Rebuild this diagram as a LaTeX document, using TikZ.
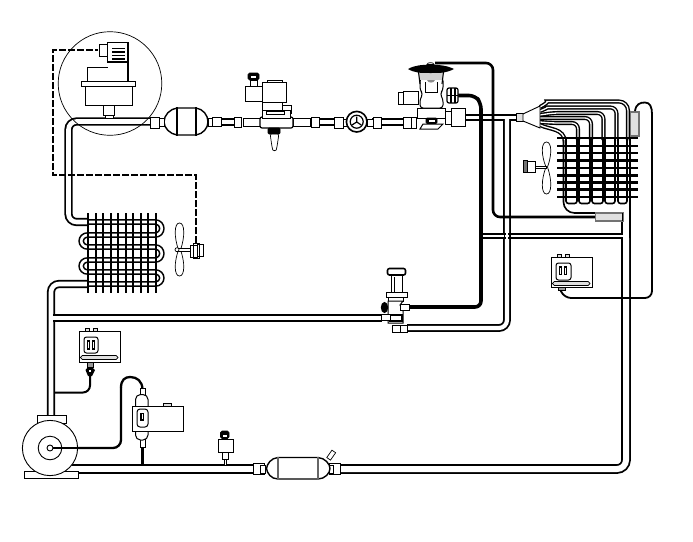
\documentclass[tikz,border=0pt]{standalone}
\begin{document}
\begin{tikzpicture}[x=1pt,y=-1pt,
 pipe/.style={line width=1.8pt,double=white,double distance=4.6pt},
 widepipe/.style={line width=1.8pt,double=white,double distance=6pt},
 rowpipe/.style={line width=1.6pt,double=white,double distance=2.6pt},
 tube/.style={line width=1.4pt,double=white,double distance=1.3pt},
 fin/.style={line width=2.1pt,black},
 wire/.style={line width=1.4pt,black},
 heavy/.style={line width=2.6pt,black},
 heavier/.style={line width=3.6pt,black},
 signal/.style={line width=1.9pt,black,dash pattern=on 7pt off 2pt},
 part/.style={draw=black,fill=white,line width=1pt},
 thin part/.style={draw=black,fill=white,line width=.7pt},
 solid part/.style={draw=black,fill=black,line width=.6pt},
 bulb/.style={draw=black!55,fill=black!12,line width=1.1pt},
 band/.style={line width=2pt,black!60},
]
\useasboundingbox (0,0) rectangle (693,541);
\fill[white] (0,0) rectangle (693,541);

% ---- named connection points
\coordinate (compTop) at (51,418);
\coordinate (condOut) at (88,284);
\coordinate (condIn) at (88,222);
\coordinate (dryerIn) at (152,121.5);
\coordinate (dryerOut) at (222,122);
\coordinate (solIn) at (234,122);
\coordinate (solOut) at (311,122);
\coordinate (glassIn) at (334,122);
\coordinate (glassOut) at (372,122);
\coordinate (txvIn) at (404,122);
\coordinate (txvOut) at (465,117.5);
\coordinate (dist) at (517,117.5);
\coordinate (hvTop) at (507,119);
\coordinate (hvValve) at (407,328);
\coordinate (liqValve) at (382,318);
\coordinate (liqTee) at (52.8,318);
\coordinate (recvOut) at (338,469);
\coordinate (recvIn) at (255,469);
\coordinate (compOut) at (72,469);
\coordinate (teeL) at (483,236);
\coordinate (teeR) at (623.4,236);

% ---- refrigerant pipes
\draw[pipe,rounded corners=8pt] (compTop) -- (51,284) -- (condOut);
\draw[pipe,rounded corners=8pt] (condIn) -- (68.5,222) -- (68.5,121.5) -- (dryerIn);
\draw[pipe] (liqTee) -- (liqValve);
\draw[rowpipe] (88,284) -- (155,284) .. controls (164,284) and (164,272) .. (155,272) -- (88,272)
  .. controls (79,272) and (79,260) .. (88,260) -- (155,260) .. controls (164,260) and (164,247) .. (155,247) -- (88,247)
  .. controls (79,247) and (79,235) .. (88,235) -- (155,235) .. controls (164,235) and (164,222) .. (155,222) -- (88,222);
\foreach \x in {88.3,95.7,103.2,110.7,118.2,125.7,133.2,140.7,148.2,155.7}
  \draw[fin] (\x,213) -- (\x,293);

\draw[pipe] (dryerOut) -- (solIn);
\draw[pipe] (solOut) -- (glassIn);
\draw[pipe] (glassOut) -- (txvIn);
\draw[pipe,double distance=3.4pt] (txvOut) -- (dist);
\draw[pipe,double distance=4.2pt,rounded corners=8pt] (hvTop) -- (507,328) -- (hvValve);
\draw[pipe,double distance=2.2pt] (teeL) -- (teeR);
\draw[line width=1.6pt] (504.3,233) -- (504.3,239) (509.7,233) -- (509.7,239);
\draw[line width=2.6pt,white] (507,233.4) -- (507,238.6);

% ---- heavy lines
\draw[heavy,rounded corners=7pt] (435,63) -- (493,63) -- (493,217) -- (597,217);
\draw[heavier,rounded corners=6pt] (458,95.5) -- (475,95.5) -- (481,103) -- (481,307) -- (408,307);

% ---- evaporator tubes
\draw[tube,rounded corners=9pt] (540,107) .. controls (546,104) and (548,101.5) .. (556,101.5) -- (628,101.5) -- (628,140);
\draw[tube,rounded corners=6pt] (540,111) .. controls (545,109) and (548,107.5) .. (553,107.5) -- (616.5,107.5) -- (616.5,140);
\draw[tube,rounded corners=6pt] (540,115) -- (553,113) -- (603.5,113) -- (603.5,140);
\draw[tube,rounded corners=6pt] (540,118) -- (591,118) -- (591,140);
\draw[tube,rounded corners=6pt] (540,122) -- (553,123) -- (578,123) -- (578,140);
\draw[tube] (540,125) .. controls (550,130) and (564,128) .. (565,142);
% U bends
\foreach \a/\b in {566/577,579/590,592/603,605/615,618/627}
  \draw[line width=1.6pt,rounded corners=2.5pt] (\a,138) -- (\a,203.5) -- (\b,203.5) -- (\b,138);
\draw[line width=1.6pt,rounded corners=11pt] (563.5,140) -- (563.5,213) -- (597,213);
% fins
\foreach \y in {138,146,153,160.5,168,175.5,182.5,189.5,197}
  \draw[fin] (557,\y) -- (638,\y);

% ---- long suction pipe and outer wall
\draw[line width=1.8pt] (622,221) -- (622,233.5);
\draw[line width=1.8pt] (630,128) -- (630,240);
\draw[widepipe,rounded corners=9pt] (recvOut) -- (626,469) -- (626,238);
\draw[pipe,double distance=2.2pt] (560,236) -- (teeR);
\draw[widepipe] (compOut) -- (recvIn);

% ---- bulbs
\draw[bulb] (595.5,213) rectangle (623,221);
\draw[line width=1.3pt] (622.5,213) -- (622.5,221);
\draw[bulb] (630.5,112) rectangle (639,136);

% ---- capillary of the right switch
\draw[wire,line width=1.8pt,rounded corners=7pt] (560,289) -- (564,298) -- (652,298) -- (652,114);
\draw[wire,line width=1.8pt] (635,111) .. controls (636,104) and (640,102.5) .. (645,102.5) .. controls (650,102.5) and (652,107) .. (652,114);

% ---- distributor
\draw[thin part,fill=black!12] (516,113) rectangle (523,121.5);
\draw[thin part,line width=.9pt] (523,114) -- (540,106) -- (540,128) -- (523,121) -- cycle;

% ---- dryer
\draw[part,line width=1.4pt] (177,108) -- (196,108) .. controls (203,109) and (208,115) .. (208,122) .. controls (208,128) and (203,134) .. (196,135) -- (177,135) .. controls (170,134) and (164,128) .. (164,122) .. controls (164,115) and (170,109) .. (177,108) -- cycle;
\draw[band,line width=1.8pt,black] (177,107) -- (177,136) (196,107) -- (196,136);
\draw[part] (150.5,117) rectangle (159.5,128);
\draw[part] (159.5,118.5) rectangle (164,126.5);
\draw[part] (208,118.5) rectangle (212,126);
\draw[part] (212,117.5) rectangle (221,126.5);

% ---- solenoid valve
\draw[part] (234,117) rectangle (241.5,127);
\draw[part] (243,118) rectangle (261,126.5);
\draw[part] (293,118) rectangle (310,126);
\draw[part] (311,117) rectangle (319,127);
\draw[part,line width=1.2pt,rounded corners=2pt] (260,117) rectangle (293,128);
\draw[part] (262,110) rectangle (290,118);
\draw[part] (262,102) rectangle (282,110);
\draw[thin part] (266,111) rectangle (284,114);
\draw[part,fill=none] (282,105) -- (291,105) -- (291,114);
\draw[part] (262.5,82) rectangle (286,102);
\draw[part] (267,80) rectangle (282,82);
\draw[part] (245,86) rectangle (262,101);
\draw[part] (250,80) rectangle (257,86);
\draw[solid part,rounded corners=1.5pt] (248,73) rectangle (259,80);
\fill[white] (251,75.5) rectangle (256,78);
\draw[thin part,rounded corners=3pt] (270,133) -- (279,133) -- (277,147) .. controls (276,151) and (273,151) .. (272,147) -- cycle;
\draw[solid part,rounded corners=1pt] (268,128) rectangle (280,134);

% ---- sight glass
\draw[part] (334,117) rectangle (343,128);
\draw[part] (343,119) rectangle (347,126);
\draw[part] (367,119) rectangle (373,126);
\draw[part] (373,117) rectangle (381,128);
\draw[part,line width=1.6pt] (356.7,121.7) circle (10.3);
\draw[part,line width=1.2pt] (356.7,121.7) circle (6.5);
\draw[line width=1.2pt] (356.7,116.5) -- (356.7,122) -- (352,125) (356.7,122) -- (361.3,125);

% ---- expansion valve
\draw[part] (403,117) rectangle (416,128);
\draw[line width=1pt] (411,117) -- (411,128);
\draw[part] (398,92) rectangle (403,104);
\draw[part] (403,91.5) rectangle (418,104);
\draw[part] (451,108) rectangle (465,126);
\draw[part] (445,111) rectangle (451,124);
\draw[part] (423,124) -- (443,124) -- (438,129) -- (420,129) -- cycle;
\draw[part] (417,108) rectangle (445,118);
\draw[part,rounded corners=3pt] (420,78) -- (443,78) -- (443,90) -- (440,94) -- (443,99) -- (443,108) -- (420,108) -- (420,99) -- (423,94) -- (420,90) -- cycle;
\draw[thin part] (425,82) -- (425,92) -- (437,92) -- (437,82);
\draw[solid part,rounded corners=1pt] (426,118) rectangle (437,123.5);
\fill[white] (428.5,119.7) rectangle (434.5,121.7);
\fill[black!18] (419,72) rectangle (443,80);
\fill[black!45] (427,80) -- (435,80) .. controls (434,83.5) and (428,83.5) .. (427,80);
\draw[line width=1.1pt] (418.5,72) -- (420,84) (443.5,72) -- (442,84);
\fill[black] (408,69) .. controls (415,65) and (422,65) .. (430.5,64.5) .. controls (438,65) and (446,65) .. (454,69) .. controls (446,73) and (442,73) .. (430.5,73) .. controls (420,73) and (415,73) .. (408,69) -- cycle;
\draw[thin part] (427,64.5) .. controls (427,62) and (434,62) .. (434,64.5) -- cycle;
\draw[solid part,fill=white,line width=1.2pt,rounded corners=2pt] (447,88) rectangle (458,103);
\draw[black,line width=1.8pt] (451,88) -- (451,103) (455,88) -- (455,103);
\draw[line width=1.6pt] (447,95.5) -- (458,95.5);

% ---- left hand valve
\draw[part,line width=1.6pt,rounded corners=2pt] (387.5,268.5) rectangle (405.5,275);
\draw[part] (391,275) rectangle (402,292);
\draw[line width=.8pt] (394,277) -- (394,292);
\draw[part] (386,292) rectangle (407,297);
\draw[part] (388.5,297) rectangle (403.5,301);
\draw[part] (392,325) rectangle (407,332);
\draw[line width=1pt] (400.5,325) -- (400.5,332);
\draw[part] (388,301) -- (403,301) -- (400,305) -- (403,311) -- (403,323) -- (388,323) -- cycle;
\draw[line width=1.6pt] (390,315) rectangle (402,321);
\draw[part] (400,304) rectangle (409,310);
\draw[part] (381,314) rectangle (390,320);
\fill[black] (384.5,307.5) ellipse (3.7 and 5.6);

% ---- condenser fan
\draw[thin part] (178.5,250) .. controls (174,237) and (174,223) .. (179.5,223) .. controls (185,223) and (185,237) .. (180.5,250) .. controls (185,262) and (185,276) .. (179.5,276) .. controls (174,276) and (174,262) .. (178.5,250) -- cycle;
\draw[thin part] (177,248) rectangle (191,251.5);
\draw[thin part] (177,249.7) circle (2);
\draw[part] (190,245) rectangle (197,257);
\draw[part] (197,244) rectangle (203,256);
\draw[line width=.8pt] (193,243.5) rectangle (199,258);
\draw[signal] (196,243) -- (196,175) -- (53,175) -- (53,50) -- (98,50);

% ---- evaporator fan
\draw[thin part] (546,167) .. controls (541,155) and (541,142) .. (546.5,142) .. controls (552,142) and (552,155) .. (547.5,167) .. controls (552,180) and (552,194) .. (546.5,194) .. controls (541,194) and (541,180) .. (546,167) -- cycle;
\draw[thin part] (534,166) rectangle (546,168.5);
\draw[part] (527,161) rectangle (535,172);
\draw[solid part,fill=black!55] (523.5,160.5) rectangle (527,172.5);

% ---- magnified pressure device
\draw[line width=.7pt] (110,83.5) circle (51.8);
\draw[part] (103,105) rectangle (114,115);
\draw[part] (105.5,115) rectangle (113,118);
\draw[part] (85,86) rectangle (132,105);
\draw[part] (81.5,81.5) rectangle (135,86);
\draw[line width=.9pt] (87.5,81.5) -- (87.5,67) -- (108,67);
\draw[line width=1.7pt] (128,61) -- (128,81.5);
\draw[part] (99,44) rectangle (108,56.5);
\draw[part,line width=1.3pt] (107.5,42.5) rectangle (128,62);
\draw[line width=1.5pt] (112,48.5) -- (125,48.5) (112,52) -- (125,52) (112,55.5) -- (125,55.5) (112,59) -- (125,59);

% ---- pressure switch left
\draw[thin part,fill=black!12] (85,328) rectangle (89,331);
\draw[thin part,fill=black!12] (93.5,328) rectangle (97.5,331);
\draw[thin part] (79,331) rectangle (120,362);
\draw[part,rounded corners=2.5pt] (84,337) rectangle (98,353);
\draw[line width=1.3pt] (87.2,341) rectangle (89.3,349) (92.5,341) rectangle (94.6,349);
\draw[thin part,rounded corners=1.8pt,fill=black!12] (80.5,355.5) rectangle (118,359.5);
\draw[thin part,fill=black!40] (87,362) rectangle (93,367);
\fill[black] (85.5,370) -- (88,367) -- (92,367) -- (95,370) -- (92,376) -- (88,376) -- cycle;
\fill[white] (88.6,369.5) rectangle (91.4,371.5);
\draw[wire,line width=2pt,rounded corners=7pt] (90,376) -- (90,392.5) -- (54.5,392.5);

% ---- oil switch
\draw[heavy,line width=2.3pt,rounded corners=8pt] (50,448) -- (121,448) -- (121,387);
\draw[heavy,line width=2.3pt] (121,387.5) .. controls (121,380) and (125,377) .. (130,377) .. controls (137,377) and (142,381) .. (142.5,389);
\draw[heavy,line width=2.3pt] (142.5,447) -- (142.5,466);
\draw[part] (140,388.5) rectangle (145,396);
\draw[part] (140,438) rectangle (145,447);
\draw[part,rounded corners=5pt] (135.5,394.5) rectangle (148,440);
\draw[thin part,fill=black!12] (163.5,403) rectangle (171,406);
\draw[thin part] (132,406) rectangle (183,431);
\draw[part,rounded corners=3pt] (137,409) rectangle (148,427);
\draw[line width=1.5pt] (141,413.5) rectangle (143.5,420);

% ---- compressor
\draw[thin part] (37,415) rectangle (66,423);
\draw[thin part] (24,471) rectangle (78,478);
\draw[part,line width=.9pt] (50,448) circle (27.6);
\draw[part,line width=.9pt] (50,448) circle (11.8);
\draw[heavy,line width=2.3pt] (53,448) -- (80,448);
\draw[part,line width=.9pt] (50,448) circle (3);

% ---- low pressure switch at the receiver line
\draw[thin part] (224,459) rectangle (226,465);
\draw[part] (222,452) rectangle (228,459);
\draw[part] (218,439) rectangle (233,452);
\draw[solid part,rounded corners=1.5pt] (220.5,431) rectangle (229,438.5);
\fill[white] (223,434.5) rectangle (226.5,437);

% ---- receiver
\draw[part] (253,463) rectangle (264.5,474.5);
\draw[part] (260,465) rectangle (265,473);
\draw[part] (329.5,463) rectangle (340,474.5);
\draw[part] (329,465) rectangle (333,473);
\draw[part,line width=1.4pt] (278,457.5) -- (318,457.5) .. controls (325,458) and (330,464) .. (330,468.5) .. controls (330,473) and (325,479) .. (318,479) -- (278,479) .. controls (271,479) and (267,473) .. (266.5,468.5) .. controls (267,464) and (271,458) .. (278,457.5) -- cycle;
\draw[band,line width=2.2pt] (278,456.5) -- (278,480) (318,456.5) -- (318,480);
\draw[thin part,rotate around={-35:(331,455)}] (329,450.5) rectangle (333.5,459.5);

% ---- pressure switch right
\draw[thin part,fill=black!12] (557,254) rectangle (561,257);
\draw[thin part,fill=black!12] (565,254) rectangle (569,257);
\draw[thin part] (551,257) rectangle (592,287);
\draw[part,rounded corners=2.5pt] (556,263) rectangle (571,280);
\draw[line width=1.3pt] (559.5,267) rectangle (561.6,274.5) (564.7,267) rectangle (566.8,274.5);
\draw[thin part,rounded corners=1.8pt,fill=black!12] (552.5,281.5) rectangle (590,285.5);
\draw[thin part,fill=black!40] (558,287) rectangle (565,290.5);
\end{tikzpicture}
\end{document}
